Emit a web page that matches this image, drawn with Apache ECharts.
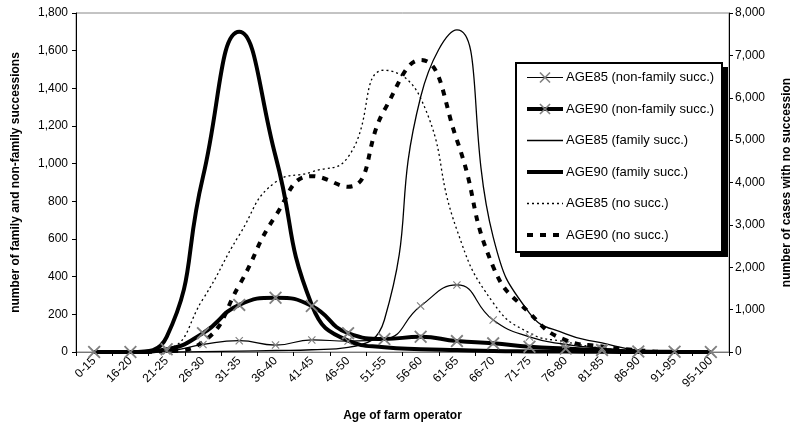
<!DOCTYPE html>
<html>
<head>
<meta charset="utf-8">
<script src="https://cdn.jsdelivr.net/npm/echarts@6/dist/echarts.min.js"></script>
<style>
html,body{margin:0;padding:0;background:#fff;}
#chart{width:803px;height:431px;}
</style>
</head>
<body>
<div id="chart"></div>
<script>
var categories = ['0-15','16-20','21-25','26-30','31-35','36-40','41-45','46-50','51-55','56-60','61-65','66-70','71-75','76-80','81-85','86-90','91-95','95-100'];
var age85NonFamily = [0, 0, 5, 40, 60, 37, 64, 58, 68, 244, 356, 170, 80, 40, 20, 5, 2, 0];
var age90NonFamily = [0, 0, 15, 100, 250, 288, 244, 100, 69, 81, 58, 46, 28, 18, 10, 3, 1, 0];
var age85Family = [0, 0, 0, 2, 5, 8, 12, 25, 170, 1354, 1710, 610, 207, 96, 48, 10, 2, 0];
var age90Family = [0, 0, 80, 930, 1700, 1040, 250, 60, 25, 15, 10, 5, 3, 2, 1, 0, 0, 0];
var age85NoSucc = [0, 0, 70, 1250, 2760, 4010, 4250, 4600, 6650, 5990, 2880, 1160, 450, 240, 90, 20, 0, 0];
var age90NoSucc = [0, 0, 20, 240, 1580, 3210, 4150, 3900, 5710, 6890, 5000, 2010, 920, 280, 130, 40, 0, 0];
var seriesNames = ['AGE85 (non-family succ.)','AGE90 (non-family succ.)','AGE85 (family succ.)','AGE90 (family succ.)','AGE85 (no succ.)','AGE90 (no succ.)'];

var FONT = 'Liberation Sans, Arial, sans-serif';
var XMARK = 'path://M0,1 L1,0 L5,4 L9,0 L10,1 L6,5 L10,9 L9,10 L5,6 L1,10 L0,9 L4,5 Z';
function fmt(v){ return v.toString().replace(/\B(?=(\d{3})+(?!\d))/g, ','); }

var legendData = seriesNames.map(function (n, i) {
  if (i < 2) return { name: n };
  return { name: n, itemStyle: { color: 'rgba(0,0,0,0)', borderWidth: 0 } };
});

var chart = echarts.init(document.getElementById('chart'));
chart.setOption({
  animation: false,
  backgroundColor: '#fff',
  textStyle: { fontFamily: FONT },
  grid: { left: 76, right: 74, top: 13, bottom: 79, show: true, borderColor: '#888', borderWidth: 1, backgroundColor: 'transparent' },
  graphic: [
    { type: 'rect', z: 20, shape: { x: 520, y: 67, width: 208, height: 190 }, style: { fill: '#000' } },
    { type: 'rect', z: 21, shape: { x: 516, y: 63, width: 206, height: 189 }, style: { fill: '#fff', stroke: '#000', lineWidth: 2 } }
  ],
  legend: {
    orient: 'vertical', left: 516, top: 62, z: 30,
    padding: [9, 10, 9, 9],
    itemWidth: 36, itemHeight: 14, itemGap: 18.5,
    backgroundColor: 'transparent', borderWidth: 0,
    lineStyle: { width: 'inherit' },
    textStyle: { fontFamily: FONT, fontSize: 13, color: '#000', padding: [0, 0, 0, -2] },
    data: legendData
  },
  xAxis: {
    type: 'category', data: categories, boundaryGap: true,
    name: 'Age of farm operator', nameLocation: 'middle', nameGap: 58,
    nameTextStyle: { fontFamily: FONT, fontSize: 12, fontWeight: 'bold', color: '#000' },
    axisLine: { lineStyle: { color: '#777', width: 1 } },
    axisTick: { show: true, length: 4, lineStyle: { color: '#000' } },
    axisLabel: { rotate: 45, fontSize: 12, color: '#000', fontFamily: FONT, margin: 7, interval: 0 },
    splitLine: { show: false }
  },
  yAxis: [{
    type: 'value', min: 0, max: 1800, interval: 200, position: 'left',
    name: 'number of family and non-family successions', nameLocation: 'middle', nameGap: 54, nameRotate: 90,
    nameTextStyle: { fontFamily: FONT, fontSize: 12, fontWeight: 'bold', color: '#000' },
    axisLine: { show: true, lineStyle: { color: '#000', width: 1 } },
    axisTick: { show: true, length: 4, lineStyle: { color: '#000' } },
    axisLabel: { formatter: fmt, fontSize: 12, color: '#000', fontFamily: FONT, margin: 8 },
    splitLine: { show: false }
  }, {
    type: 'value', min: 0, max: 8000, interval: 1000, position: 'right',
    name: 'number of cases with no succession', nameLocation: 'middle', nameGap: 52, nameRotate: 90,
    nameTextStyle: { fontFamily: FONT, fontSize: 12, fontWeight: 'bold', color: '#000' },
    axisLine: { show: true, lineStyle: { color: '#000', width: 1 } },
    axisTick: { show: true, length: 4, lineStyle: { color: '#000' } },
    axisLabel: { formatter: fmt, fontSize: 12, color: '#000', fontFamily: FONT, margin: 6 },
    splitLine: { show: false }
  }],
  series: [
    { name: seriesNames[0], type: 'line', yAxisIndex: 0, data: age85NonFamily, smooth: 0.5,
      symbol: XMARK, symbolSize: 8, showSymbol: true,
      lineStyle: { color: '#000', width: 1.2 }, itemStyle: { color: '#808080' }, z: 5 },
    { name: seriesNames[1], type: 'line', yAxisIndex: 0, data: age90NonFamily, smooth: 0.5,
      symbol: XMARK, symbolSize: 13, showSymbol: true,
      lineStyle: { color: '#000', width: 4 }, itemStyle: { color: '#808080' }, z: 4 },
    { name: seriesNames[2], type: 'line', yAxisIndex: 0, data: age85Family, smooth: 0.5,
      symbol: 'none', lineStyle: { color: '#000', width: 1.3 }, itemStyle: { color: '#000' }, z: 3 },
    { name: seriesNames[3], type: 'line', yAxisIndex: 0, data: age90Family, smooth: 0.5,
      symbol: 'none', lineStyle: { color: '#000', width: 4 }, itemStyle: { color: '#000' }, z: 3 },
    { name: seriesNames[4], type: 'line', yAxisIndex: 1, data: age85NoSucc, smooth: 0.5,
      symbol: 'none', lineStyle: { color: '#000', width: 1.3, type: [2, 3] }, itemStyle: { color: '#000' }, z: 2 },
    { name: seriesNames[5], type: 'line', yAxisIndex: 1, data: age90NoSucc, smooth: 0.5,
      symbol: 'none', lineStyle: { color: '#000', width: 4, type: [6, 7] }, itemStyle: { color: '#000' }, z: 2 }
  ]
});
</script>
</body>
</html>
